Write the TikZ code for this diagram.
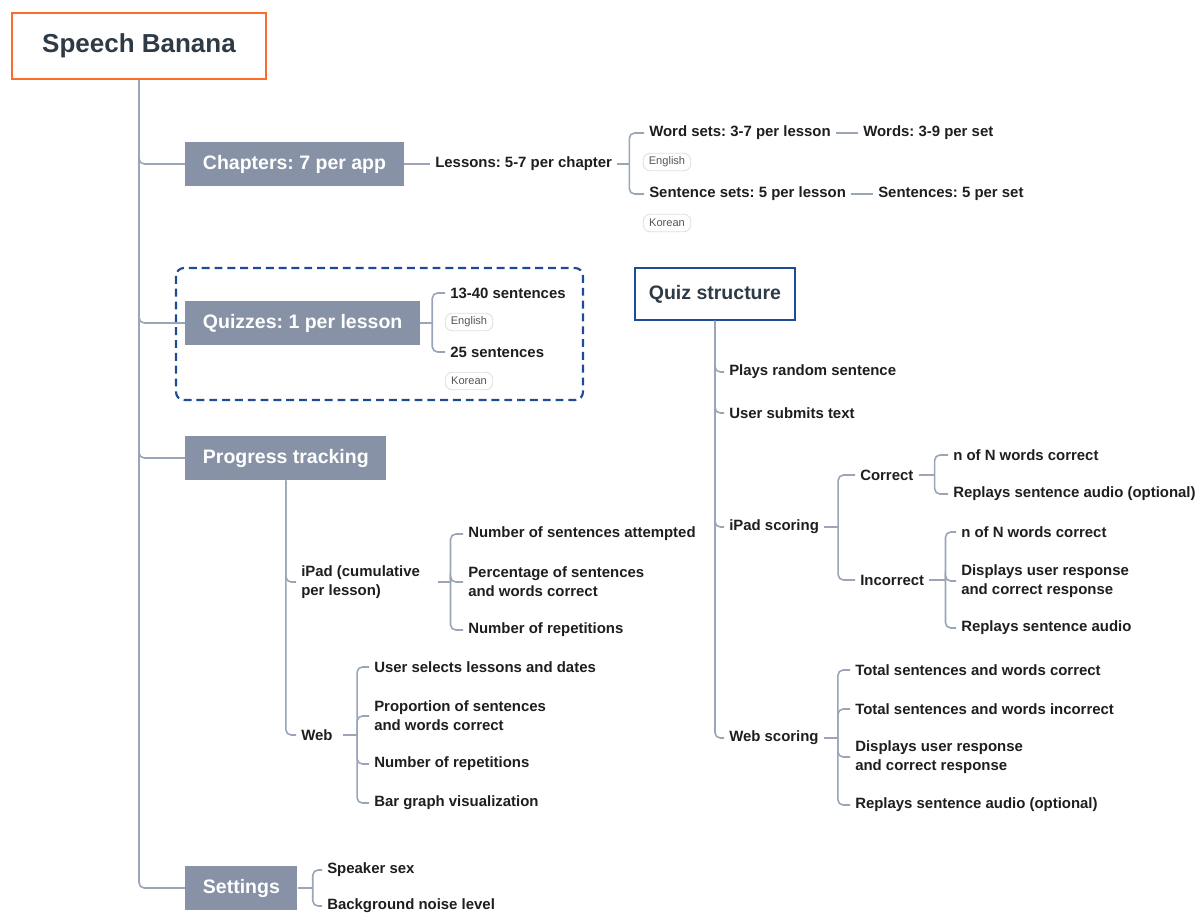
\documentclass[tikz,border=0pt]{standalone}
\usepackage{fontspec}
\setmainfont{Liberation Sans}
\frenchspacing
\usetikzlibrary{positioning}

\definecolor{boxgray}{HTML}{8792A6}
\definecolor{linkgray}{HTML}{9AA5B8}
\definecolor{titleink}{HTML}{2E3A46}
\definecolor{leafink}{HTML}{1E1E1E}
\definecolor{rootorange}{HTML}{FF6B2B}
\definecolor{quizblue}{HTML}{1D4B96}
\definecolor{tagline}{HTML}{E0E0E0}
\definecolor{tagink}{HTML}{555555}

\tikzset{
    link/.style = {draw=linkgray, line width=0.9pt, rounded corners=3pt},
    root/.style = {draw=rootorange, line width=1.2pt, fill=white, text=titleink,
        font=\fontsize{14.8}{17}\selectfont\bfseries, minimum width=145pt, minimum height=38pt},
    topic/.style = {fill=boxgray, text=white, font=\fontsize{11.1}{13}\selectfont\bfseries,
        inner xsep=10pt, minimum height=25pt, anchor=west},
    leaf/.style = {text=leafink, font=\fontsize{8.5}{10.8}\selectfont\bfseries,
        inner xsep=2.8pt, inner ysep=1pt, anchor=west, align=left},
    tag/.style = {draw=tagline, line width=0.5pt, fill=white, rounded corners=4pt, text=tagink,
        font=\fontsize{6.3}{7}\selectfont, minimum width=27pt, minimum height=10pt, inner sep=1pt},
    quizhead/.style = {draw=quizblue, line width=1.2pt, fill=white, text=titleink,
        font=\fontsize{11.1}{13}\selectfont\bfseries, minimum width=90.7pt, minimum height=29.5pt},
    quizframe/.style = {draw=quizblue, line width=1.2pt, dash pattern=on 4.5pt off 2.8pt, rounded corners=4.5pt}
}

\begin{document}
\begin{tikzpicture}[x=0.02cm, y=-0.02cm]
    \useasboundingbox (0,0) rectangle (1197,913);

    \node [root] (banana) at (139,46) {Speech Banana};

    \node [topic] (chapters) at (185,164) {Chapters: 7 per app};
    \node [leaf] (lessons) at (430,164) {Lessons: 5-7 per chapter};
    \node [leaf] (wordsets) at (644,133) {Word sets: 3-7 per lesson};
    \node [leaf] (words) at (858,133) {Words: 3-9 per set};
    \node [tag] (wordlang) at (667,162) {English};
    \node [leaf] (sentsets) at (644,194) {Sentence sets: 5 per lesson};
    \node [leaf] (sents) at (873,194) {Sentences: 5 per set};
    \node [tag] (sentlang) at (667,223) {Korean};

    \draw [quizframe] (176,268) rectangle (583,400);
    \node [topic] (quizzes) at (185,323) {Quizzes: 1 per lesson};
    \node [leaf] (longquiz) at (445,293) {13-40 sentences};
    \node [tag] (longlang) at (469,322) {English};
    \node [leaf] (shortquiz) at (445,352) {25 sentences};
    \node [tag] (shortlang) at (469,381) {Korean};

    \node [topic] (progress) at (185,458) {Progress tracking};
    \node [leaf] (ipad) at (296,582) {iPad (cumulative\\per lesson)};
    \node [leaf] (attempted) at (463,534) {Number of sentences attempted};
    \node [leaf] (percentage) at (463,582) {Percentage of sentences\\and words correct};
    \node [leaf] (ipadreps) at (463,630) {Number of repetitions};
    \node [leaf] (web) at (296,735) {Web};
    \node [leaf] (selects) at (369,667) {User selects lessons and dates};
    \node [leaf] (proportion) at (369,716) {Proportion of sentences\\and words correct};
    \node [leaf] (webreps) at (369,764) {Number of repetitions};
    \node [leaf] (bargraph) at (369,803) {Bar graph visualization};

    \node [topic] (settings) at (185,888) {Settings};
    \node [leaf] (speaker) at (322,870) {Speaker sex};
    \node [leaf] (noise) at (322,906) {Background noise level};

    \node [quizhead] (quiz) at (715,294) {Quiz structure};
    \node [leaf] (plays) at (724,372) {Plays random sentence};
    \node [leaf] (submits) at (724,413) {User submits text};
    \node [leaf] (ipadscore) at (724,527) {iPad scoring};
    \node [leaf] (correct) at (855,475) {Correct};
    \node [leaf] (okwords) at (948,455) {n of N words correct};
    \node [leaf] (okreplay) at (948,494) {Replays sentence audio (optional)};
    \node [leaf] (incorrect) at (855,580) {Incorrect};
    \node [leaf] (badwords) at (956,532) {n of N words correct};
    \node [leaf] (baddisplay) at (956,581) {Displays user response\\and correct response};
    \node [leaf] (badreplay) at (956,628) {Replays sentence audio};
    \node [leaf] (webscore) at (724,738) {Web scoring};
    \node [leaf] (totalok) at (850,670) {Total sentences and words correct};
    \node [leaf] (totalbad) at (850,709) {Total sentences and words incorrect};
    \node [leaf] (webdisplay) at (850,757) {Displays user response\\and correct response};
    \node [leaf] (webreplay) at (850,805) {Replays sentence audio (optional)};

    \foreach \b in {chapters, quizzes, progress, settings}
        \draw [link] (banana.south) |- (\b.west);

    \draw [link] (chapters.east) -- (lessons.west);
    \draw [link, rounded corners=0pt] (lessons.east) -- ++(12,0) coordinate (lessonsfork);
    \foreach \c in {wordsets, sentsets}
        \draw [link] (lessonsfork) |- (\c.west);
    \draw [link] (wordsets.east) -- (words.west);
    \draw [link] (sentsets.east) -- (sents.west);

    \draw [link, rounded corners=0pt] (quizzes.east) -- ++(12,0) coordinate (quizfork);
    \foreach \c in {longquiz, shortquiz}
        \draw [link] (quizfork) |- (\c.west);

    \foreach \c in {ipad, web}
        \draw [link] (progress.south) |- (\c.west);
    \draw [link, rounded corners=0pt] ([xshift=7pt]ipad.east) -- ++(13,0) coordinate (ipadfork);
    \foreach \c in {attempted, percentage, ipadreps}
        \draw [link] (ipadfork) |- (\c.west);
    \draw [link, rounded corners=0pt] ([xshift=3pt]web.east) -- ++(14,0) coordinate (webfork);
    \foreach \c in {selects, proportion, webreps, bargraph}
        \draw [link] (webfork) |- (\c.west);

    \draw [link, rounded corners=0pt] (settings.east) -- ++(15,0) coordinate (setfork);
    \foreach \c in {speaker, noise}
        \draw [link] (setfork) |- (\c.west);

    \foreach \c in {plays, submits, ipadscore, webscore}
        \draw [link] (quiz.south) |- (\c.west);
    \draw [link, rounded corners=0pt] (ipadscore.east) -- ++(14,0) coordinate (scorefork);
    \foreach \c in {correct, incorrect}
        \draw [link] (scorefork) |- (\c.west);
    \draw [link, rounded corners=0pt] (correct.east) -- ++(16,0) coordinate (okfork);
    \foreach \c in {okwords, okreplay}
        \draw [link] (okfork) |- (\c.west);
    \draw [link, rounded corners=0pt] (incorrect.east) -- ++(16,0) coordinate (badfork);
    \foreach \c in {badwords, baddisplay, badreplay}
        \draw [link] (badfork) |- (\c.west);
    \draw [link, rounded corners=0pt] (webscore.east) -- ++(14,0) coordinate (webscorefork);
    \foreach \c in {totalok, totalbad, webdisplay, webreplay}
        \draw [link] (webscorefork) |- (\c.west);
\end{tikzpicture}
\end{document}
